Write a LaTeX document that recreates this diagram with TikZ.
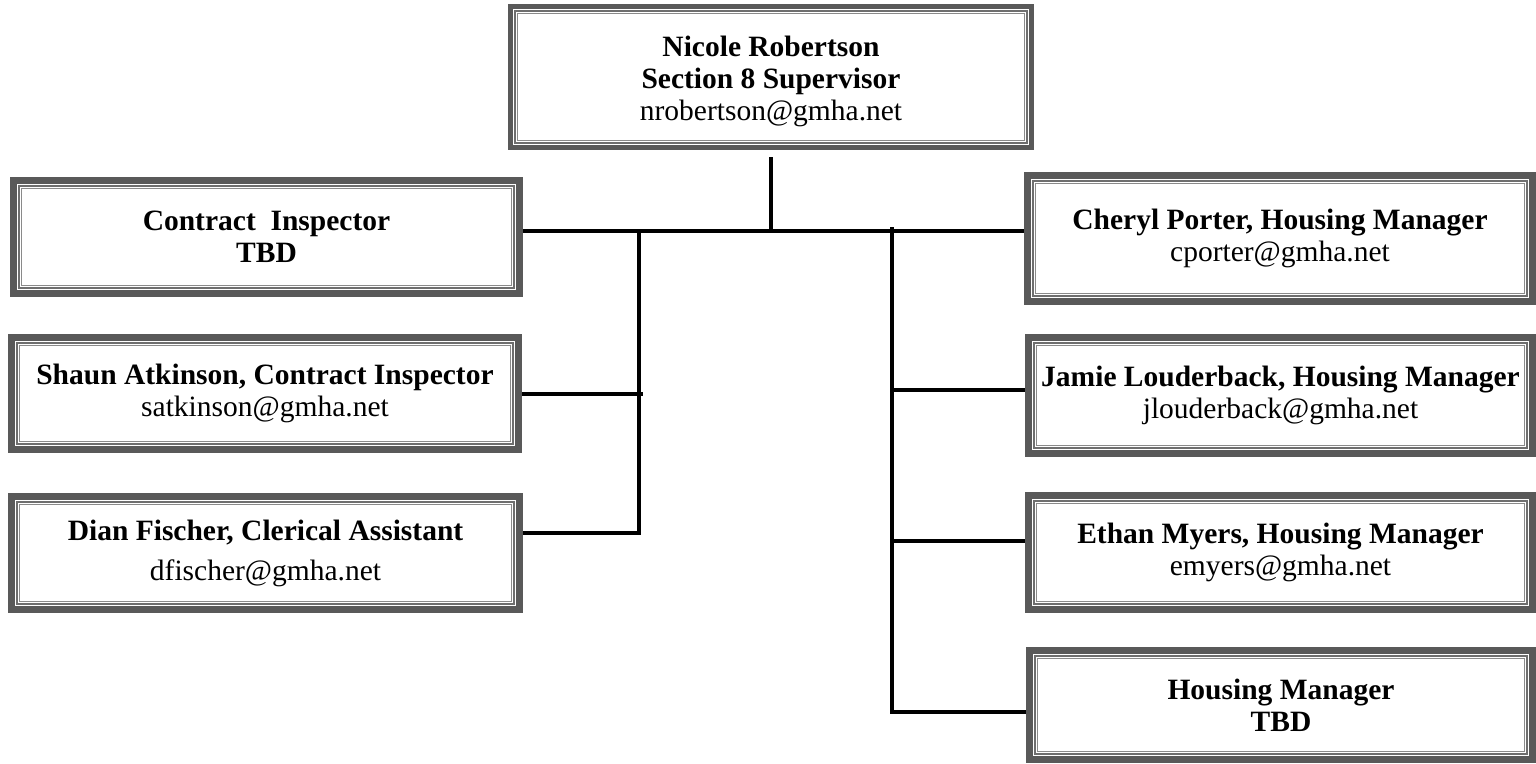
\documentclass[tikz,border=0pt]{standalone}
\usepackage{fontspec}
\setmainfont{Liberation Serif}
\definecolor{band}{HTML}{595959}
\definecolor{lineg}{HTML}{6E6E6E}
\definecolor{lineh}{HTML}{8A8A8A}
\tikzset{
  orgbox/.style={rectangle, anchor=north west, inner sep=0pt, outer sep=0pt,
    fill=band, align=center, text=black,
    font=\fontsize{29.5}{32}\selectfont,
    path picture={
      \fill[white] ([shift={(#1,-#1)}]path picture bounding box.north west)
        rectangle ([shift={(-#1,#1)}]path picture bounding box.south east);
      \draw[lineg, line width=2pt] ([shift={(#1+2pt,-#1-2pt)}]path picture bounding box.north west)
        rectangle ([shift={(-#1-2pt,#1+2pt)}]path picture bounding box.south east);
      \draw[lineh, line width=1pt] ([shift={(#1+4.5pt,-#1-4.5pt)}]path picture bounding box.north west)
        rectangle ([shift={(-#1-4.5pt,#1+4.5pt)}]path picture bounding box.south east);
    }},
  orgbox/.default=7pt,
  conn/.style={draw=black, line width=4pt}
}
\begin{document}
\begin{tikzpicture}[x=1pt,y=-1pt]
\useasboundingbox[fill=white] (0,0) rectangle (1536,763);

\node[orgbox=5pt, minimum width=526pt, minimum height=146pt] (top) at (508,4)
  {\rule{0pt}{30pt}\textbf{Nicole Robertson}\\\textbf{Section 8 Supervisor}\\nrobertson@gmha.net};

\node[orgbox, minimum width=513pt, minimum height=120pt] (ci) at (10,177)
  {\textbf{Contract~~Inspector}\\\textbf{TBD}};
\node[orgbox, minimum width=514pt, minimum height=119pt] (shaun) at (8,334)
  {\textbf{Shaun Atkinson, Contract Inspector}\\satkinson@gmha.net};
\node[orgbox, minimum width=515pt, minimum height=120pt] (dian) at (8,493)
  {\textbf{Dian Fischer, Clerical Assistant}\\[8pt]dfischer@gmha.net};

\node[orgbox, minimum width=512pt, minimum height=133pt] (cheryl) at (1024,172)
  {\textbf{Cheryl Porter, Housing Manager}\\cporter@gmha.net};
\node[orgbox, minimum width=511pt, minimum height=123pt] (jamie) at (1025,334)
  {\textbf{Jamie Louderback, Housing Manager}\\jlouderback@gmha.net};
\node[orgbox, minimum width=511pt, minimum height=121pt] (ethan) at (1025,492)
  {\textbf{Ethan Myers, Housing Manager}\\emyers@gmha.net};
\node[orgbox, minimum width=510pt, minimum height=116pt] (tbd) at (1026,647)
  {\textbf{Housing Manager}\\\textbf{TBD}};

\coordinate (barlevel) at (0,231);
\coordinate (lj) at (639,231);
\coordinate (rj) at (892,227);
\coordinate (dianc) at ([yshift=20pt]dian.east);
\coordinate (shaunc) at (shaun.east -| lj);
\coordinate (jamiec) at ([yshift=6pt]jamie.west);
\coordinate (ethanc) at ([yshift=11.5pt]ethan.west);
\coordinate (tbdc) at ([yshift=-7pt]tbd.west);

\draw[conn] ([yshift=-7pt]top.south) -- (top.south |- barlevel);
\draw[conn] (ci.east |- barlevel) -- (cheryl.west |- barlevel);
\draw[conn] (dianc) -- (dianc -| lj) -- (lj);
\draw[conn] (shaun.east) -- ([xshift=4pt]shaunc);
\draw[conn] (tbdc) -- (tbdc -| rj) -- (rj);
\draw[conn] (jamiec -| rj) -- (jamiec);
\draw[conn] (ethanc -| rj) -- (ethanc);
\end{tikzpicture}
\end{document}
